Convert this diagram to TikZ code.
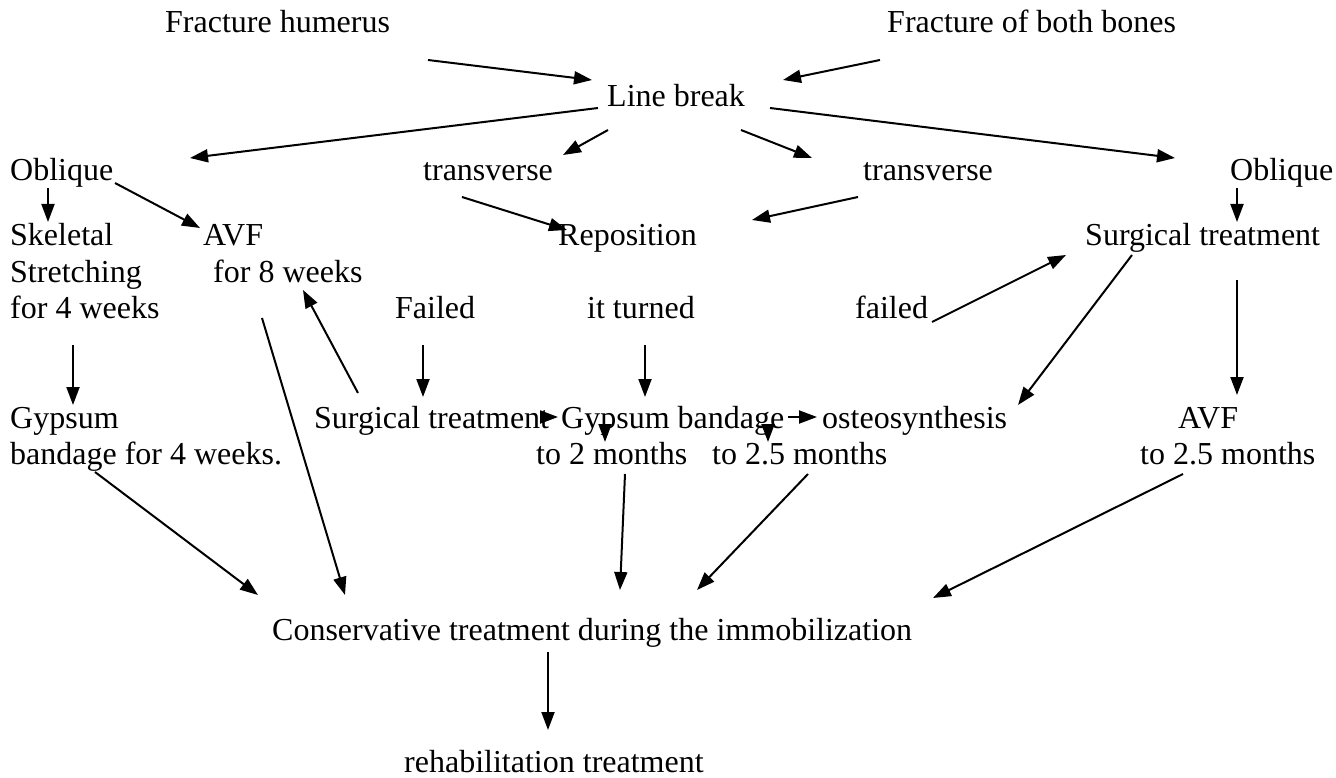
\documentclass[tikz,border=0pt]{standalone}
\usepackage{fontspec}
\setmainfont{Liberation Serif}
\usetikzlibrary{arrows.meta}
\begin{document}
\begin{tikzpicture}[x=1pt,y=-1pt,
  tx/.style={anchor=base west,inner sep=0pt,font=\fontsize{32}{37}\selectfont},
  arr/.style={-{Triangle[length=18pt,width=13pt]},line width=2pt}]
\useasboundingbox (0,0) rectangle (1336,778);
% texts
\node[tx] (hum) at (165,33) {Fracture humerus};
\node[tx] (both) at (887,33) {Fracture of both bones};
\node[tx] (lb) at (607,107) {Line break};
\node[tx] (obL) at (10,181) {Oblique};
\node[tx] (trL) at (423,181) {transverse};
\node[tx] (trR) at (863,181) {transverse};
\node[tx] (obR) at (1230,181) {Oblique};
\node[tx] (sk1) at (10,246) {Skeletal};
\node[tx] (sk2) at (10,282) {Stretching};
\node[tx] (sk3) at (10,318) {for 4 weeks};
\node[tx] (avf) at (203,246) {AVF};
\node[tx] (for8) at (213,282) {for 8 weeks};
\node[tx] (rep) at (558,246) {Reposition};
\node[tx] (surgR) at (1085,246) {Surgical treatment};
\node[tx] (failA) at (395,318) {Failed};
\node[tx] (turned) at (587,318) {it turned};
\node[tx] (failB) at (855,318) {failed};
\node[tx] (gL1) at (10,428) {Gypsum};
\node[tx] (gL2) at (10,464) {bandage for 4 weeks.};
\node[tx] (surgM) at (314,428) {Surgical treatment};
\node[tx] (gyps) at (561,428) {Gypsum bandage};
\node[tx] (osteo) at (822,428) {osteosynthesis};
\node[tx] (avfR) at (1178,428) {AVF};
\node[tx] (to2) at (536,464) {to 2 months};
\node[tx] (to25) at (712,464) {to 2.5 months};
\node[tx] (toR) at (1140,464) {to 2.5 months};
\node[tx] (cons) at (272,640) {Conservative treatment during the immobilization};
\node[tx] (rehab) at (404,772) {rehabilitation treatment};
% connectors
\draw[arr] ([shift={(263,27)}]hum.base west) -- ([shift={(-15,-27)}]lb.base west);
\draw[arr] ([shift={(-7,27)}]both.base west) -- ([shift={(176,-27)}]lb.base west);
\draw[arr] ([shift={(-9,1)}]lb.base west) -- ([shift={(180,-23)}]obL.base west);
\draw[arr] ([shift={(1,23)}]lb.base west) -- ([shift={(140,-26)}]trL.base west);
\draw[arr] ([shift={(134,23)}]lb.base west) -- ([shift={(-51,-23)}]trR.base west);
\draw[arr] ([shift={(163,1)}]lb.base west) -- ([shift={(-55,-23)}]obR.base west);
\draw[arr] ([shift={(38,7)}]obL.base west) -- ([shift={(38,-24)}]sk1.base west);
\draw[arr] ([shift={(105,2)}]obL.base west) -- ([shift={(-3,-18)}]avf.base west);
\draw[arr] ([shift={(39,16)}]trL.base west) -- ([shift={(9,-16)}]rep.base west);
\draw[arr] ([shift={(-5,16)}]trR.base west) -- ([shift={(194,-26)}]rep.base west);
\draw[arr] ([shift={(7,7)}]obR.base west) -- ([shift={(152,-24)}]surgR.base west);
\draw[arr] ([shift={(77,4)}]failB.base west) -- ([shift={(-19,9)}]surgR.base west);
\draw[arr] ([shift={(47,9)}]surgR.base west) -- ([shift={(196,-23)}]osteo.base west);
\draw[arr] ([shift={(152,34)}]surgR.base west) -- ([shift={(59,-33)}]avfR.base west);
\draw[arr] ([shift={(28,27)}]failA.base west) -- ([shift={(109,-31)}]surgM.base west);
\draw[arr] ([shift={(58,27)}]turned.base west) -- ([shift={(84,-31)}]gyps.base west);
\draw[arr] ([shift={(44,-35)}]surgM.base west) -- ([shift={(90,8)}]for8.base west);
\draw[arr] ([shift={(0,-11)}]surgM.base east) -- ([shift={(-3,-11)}]gyps.base west);
\draw[arr] ([shift={(4,-11)}]gyps.base east) -- ([shift={(-5,-11)}]osteo.base west);
\draw[arr] ([shift={(44,0)}]gyps.base west) -- ([shift={(69,-22)}]to2.base west);
\draw[arr] ([shift={(207,0)}]gyps.base west) -- ([shift={(56,-22)}]to25.base west);
\draw[arr] ([shift={(63,27)}]sk3.base west) -- ([shift={(63,-23)}]gL1.base west);
\draw[arr] ([shift={(85,8)}]gL2.base west) -- ([shift={(-14,-45)}]cons.base west);
\draw[arr] ([shift={(49,36)}]for8.base west) -- ([shift={(73,-45)}]cons.base west);
\draw[arr] ([shift={(89,10)}]to2.base west) -- ([shift={(348,-50)}]cons.base west);
\draw[arr] ([shift={(96,10)}]to25.base west) -- ([shift={(425,-50)}]cons.base west);
\draw[arr] ([shift={(43,10)}]toR.base west) -- ([shift={(661,-42)}]cons.base west);
\draw[arr] ([shift={(276,12)}]cons.base west) -- ([shift={(144,-42)}]rehab.base west);
\end{tikzpicture}
\end{document}
